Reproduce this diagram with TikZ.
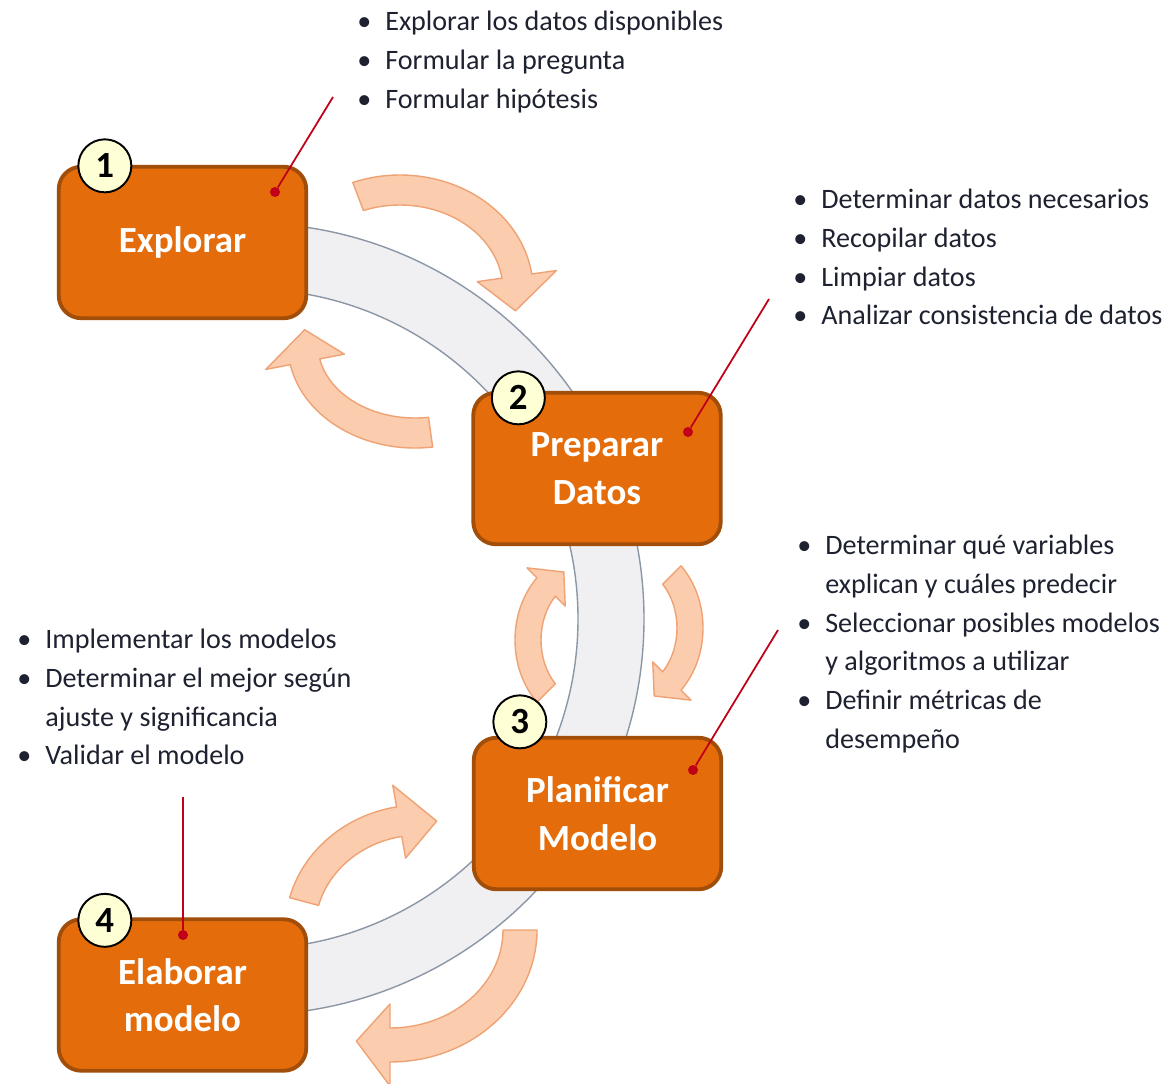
\documentclass[tikz,border=0pt]{standalone}
\usepackage{fontspec}
\setmainfont{Carlito}
\usetikzlibrary{calc,positioning}

\definecolor{boxfill}{HTML}{E46C0A}
\definecolor{boxline}{HTML}{A04E0A}
\definecolor{circfill}{HTML}{FFFFD6}
\definecolor{bandfill}{HTML}{F0F0F3}
\definecolor{bandline}{HTML}{8C97A6}
\definecolor{arrfill}{HTML}{FBCDAE}
\definecolor{arrline}{HTML}{EFA274}
\definecolor{leadred}{HTML}{C00018}
\definecolor{txt}{HTML}{1E2230}

\tikzset{
  phase/.style={draw=boxline, line width=2.2pt, fill=boxfill, rounded corners=0.45cm,
    minimum width=4.95cm, minimum height=3.03cm, text=white, align=center,
    font=\fontsize{21}{27}\selectfont\bfseries},
  numcirc/.style={circle, draw=black, line width=1.1pt, fill=circfill, minimum size=1.06cm,
    inner sep=0pt, font=\fontsize{21}{21}\selectfont\bfseries},
  bullets/.style={anchor=north west, inner sep=0pt, align=left, text=txt,
    font=\fontsize{16}{22}\selectfont},
  leader/.style={leadred, line width=1pt},
  reddot/.style={circle, fill=leadred, minimum size=0.2cm, inner sep=0pt},
  bent/.style={fill=arrfill, draw=arrline, line width=0.8pt, line join=round},
}

\newcommand{\itm}{\makebox[0.56cm][l]{\textbullet}}
\newcommand{\cnt}{\hspace*{0.56cm}}

% centre x, centre y, x radius, y radius, tail, head base, tip, half width, head half width
\newcommand{\bentarrow}[9]{%
  \pgfmathsetmacro\rxo{#3+#8}\pgfmathsetmacro\ryo{#4+#8}%
  \pgfmathsetmacro\rxi{#3-#8}\pgfmathsetmacro\ryi{#4-#8}%
  \pgfmathsetmacro\rxh{#3+#9}\pgfmathsetmacro\ryh{#4+#9}%
  \pgfmathsetmacro\rxk{#3-#9}\pgfmathsetmacro\ryk{#4-#9}%
  \draw[bent] ($(#1,#2)+({\rxo*cos(#5)},{\ryo*sin(#5)})$)
      arc[start angle=#5, end angle=#6, x radius=\rxo, y radius=\ryo]
    -- ($(#1,#2)+({\rxh*cos(#6)},{\ryh*sin(#6)})$)
    -- ($(#1,#2)+({#3*cos(#7)},{#4*sin(#7)})$)
    -- ($(#1,#2)+({\rxk*cos(#6)},{\ryk*sin(#6)})$)
    -- ($(#1,#2)+({\rxi*cos(#6)},{\ryi*sin(#6)})$)
      arc[start angle=#6, end angle=#5, x radius=\rxi, y radius=\ryi] -- cycle;}

\begin{document}
\begin{tikzpicture}[x=0.02cm, y=-0.02cm]
%  \draw[help lines] (0,0) grid[step=50] (1169,1084);
  \fill[white] (0,0) rectangle (1169,1084);
  \useasboundingbox (0,0) rectangle (1169,1084);

  % grey ring behind the boxes
  \coordinate (hub) at (248,619);
  \draw[draw=bandline, fill=bandfill, line width=0.8pt]
    ($(hub)+(0,-396)$) arc[start angle=-90, end angle=90, radius=396]
    -- ($(hub)+(0,330)$) arc[start angle=90, end angle=-90, radius=330] -- cycle;

  % curved arrows
  \bentarrow{400}{290}{118}{100}{-110.8}{-8}{12}{15}{40}
  \bentarrow{415}{345}{112}{88}{82}{169}{190}{15}{40}
  \bentarrow{590}{640}{62}{75}{135}{225}{245}{13}{27}
  \bentarrow{628}{628}{62}{75}{-45}{45}{65}{13}{27}
  \bentarrow{420}{930}{120}{110}{195}{260}{278}{15}{37}
  \bentarrow{390}{930}{130}{115}{0}{90}{105}{17}{41}

  \node[phase] (explorar)   at (182.5,242.5) {Explorar};
  \node[phase] (preparar)   at (597,468.5)   {Preparar\\Datos};
  \node[phase] (planificar) at (597.5,813.5) {Planificar\\Modelo};
  \node[phase] (elaborar)   at (182.5,995)   {Elaborar\\modelo};

  \node[numcirc] (n1) at ($(explorar.north west)+(48,1)$)   {1};
  \node[numcirc] (n2) at ($(preparar.north west)+(47,7)$)   {2};
  \node[numcirc] (n3) at ($(planificar.north west)+(48,-14)$) {3};
  \node[numcirc] (n4) at ($(elaborar.north west)+(48,3)$)   {4};

  \node[bullets] (t1) at (357,11)  {\itm Explorar los datos disponibles\\
    \itm Formular la pregunta\\ \itm Formular hipótesis};
  \node[bullets] (t2) at (793,189) {\itm Determinar datos necesarios\\
    \itm Recopilar datos\\ \itm Limpiar datos\\ \itm Analizar consistencia de datos};
  \node[bullets] (t3) at (797,535) {\itm Determinar qué variables\\
    \cnt explican y cuáles predecir\\ \itm Seleccionar posibles modelos\\
    \cnt y algoritmos a utilizar\\ \itm Definir métricas de\\ \cnt desempeño};
  \node[bullets] (t4) at (17,629)  {\itm Implementar los modelos\\
    \itm Determinar el mejor según\\ \cnt ajuste y significancia\\ \itm Validar el modelo};

  % leaders from the lists into the boxes
  \node[reddot] (d1) at (275,192) {};
  \node[reddot] (d2) at (688,432) {};
  \node[reddot] (d3) at (693,770) {};
  \node[reddot] (d4) at (183,935) {};
  \coordinate (e1) at (333,97);
  \coordinate (e2) at (769,299);
  \coordinate (e3) at (778,630);
  \coordinate (e4) at (183,797);
  \draw[leader] (e1) -- (d1);
  \draw[leader] (e2) -- (d2);
  \draw[leader] (e3) -- (d3);
  \draw[leader] (e4) -- (d4);
\end{tikzpicture}
\end{document}
